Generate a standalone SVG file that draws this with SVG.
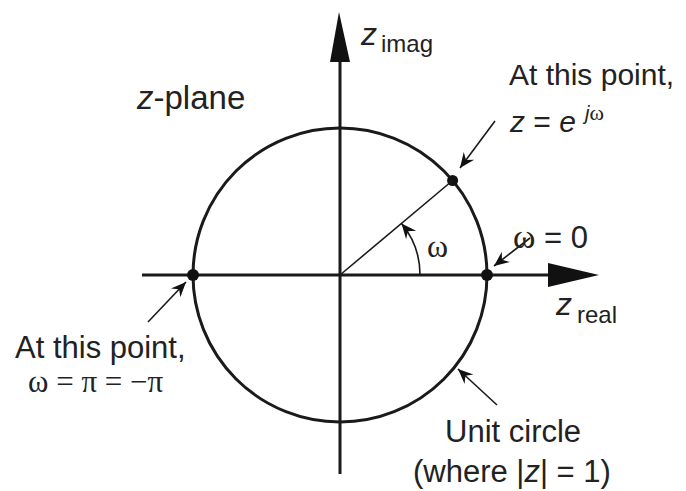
<svg xmlns="http://www.w3.org/2000/svg" width="686" height="491" viewBox="0 0 686 491">
<style>
  .t { font-family: "Liberation Sans", Arial, sans-serif; font-size: 30px; fill: #222; }
  .s { font-family: "Liberation Sans", Arial, sans-serif; font-size: 24px; fill: #222; }
  .g { font-family: "Liberation Serif", "Times New Roman", serif; }
  .i { font-style: italic; }
  .axis { stroke: #1a1a1a; stroke-width: 3; fill: none; }
  .thin { stroke: #1a1a1a; stroke-width: 1.6; fill: none; }
  .dot { fill: #111; }
</style>
<defs>
  <marker id="ptr" markerUnits="userSpaceOnUse" markerWidth="20" markerHeight="16" viewBox="-16 -8 18 16" refX="0" refY="0" orient="auto">
    <path d="M0,0 L-15,-6.5 L-10,0 L-15,6.5 Z" fill="#111"/>
  </marker>
</defs>
<rect width="686" height="491" fill="#fff"/>
<g id="axes">
  <line class="axis" x1="340" y1="55" x2="340" y2="474"/>
  <polygon points="339,12 330,62 350,62" fill="#111"/>
  <line class="axis" x1="142" y1="275" x2="555" y2="275"/>
  <polygon points="599,275 548,263 548,287" fill="#111"/>
</g>
<g id="unit-circle">
  <circle class="axis" cx="340" cy="275" r="147"/>
</g>
<g id="points">
  <circle class="dot" cx="193" cy="275" r="6"/>
  <circle class="dot" cx="487" cy="275" r="6"/>
  <circle class="dot" cx="452.6" cy="180.5" r="5.5"/>
</g>
<g id="connectors">
  <line class="thin" x1="340" y1="275" x2="452.6" y2="180.5"/>
  <path class="thin" d="M420,275 A80,80 0 0 0 401.5,223.5" marker-end="url(#ptr)"/>
  <line class="thin" x1="495" y1="121" x2="460" y2="168" marker-end="url(#ptr)"/>
  <line class="thin" x1="530" y1="238" x2="494" y2="266" marker-end="url(#ptr)"/>
  <line class="thin" x1="148" y1="322" x2="186" y2="282" marker-end="url(#ptr)"/>
  <line class="thin" x1="497" y1="405" x2="458" y2="369" marker-end="url(#ptr)"/>
</g>
<g id="labels">
  <text class="t" x="137" y="109" style="font-size:33px"><tspan class="i">z</tspan>-plane</text>
  <text class="t" x="361" y="45" style="font-size:32px"><tspan class="i">z</tspan></text>
  <text class="s" x="381" y="52">imag</text>
  <text class="t" x="509" y="85">At this point,</text>
  <text class="t" x="510" y="132"><tspan class="i">z</tspan> = <tspan class="i">e</tspan></text>
  <text class="s" x="585" y="120" style="font-size:20px"><tspan class="i">j</tspan><tspan class="g" style="font-size:22px">ω</tspan></text>
  <text class="t g" x="427" y="257" style="font-size:32px">ω</text>
  <text class="t" x="513" y="248" style="font-size:31px"><tspan class="g" style="font-size:34px">ω</tspan> = 0</text>
  <text class="t" x="556" y="315" style="font-size:32px"><tspan class="i">z</tspan></text>
  <text class="s" x="577" y="323">real</text>
  <text class="t" x="15" y="358" style="font-size:31px">At this point,</text>
  <text class="t g" x="28" y="392" style="font-size:31px">ω = π = −π</text>
  <text class="t" x="445" y="442" style="font-size:31px">Unit circle</text>
  <text class="t" x="413" y="482" style="font-size:31px">(where |<tspan class="i">z</tspan>| = 1)</text>
</g>
</svg>
